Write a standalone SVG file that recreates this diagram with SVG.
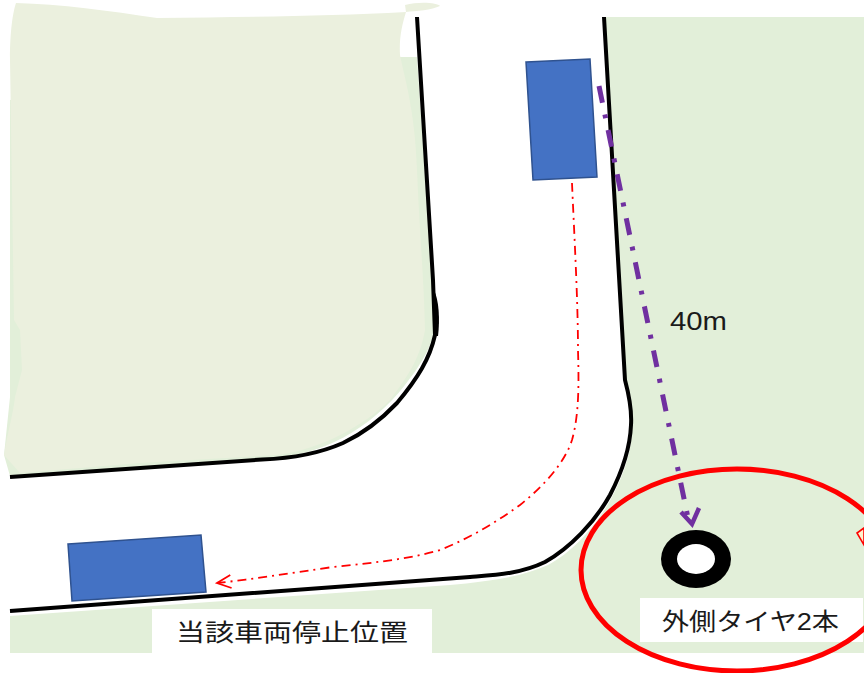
<svg xmlns="http://www.w3.org/2000/svg" width="864" height="673" viewBox="0 0 864 673">
<style>
.road{fill:none;stroke:#000;stroke-width:4;stroke-linejoin:round}
.car{fill:#4472c4;stroke:#2f528f;stroke-width:1.5}
.label{font-family:"Liberation Sans","Noto Sans CJK JP",sans-serif;fill:#1a1a1a}
.box{fill:#fff}
</style>
<defs>
<marker id="redHead" markerUnits="userSpaceOnUse" markerWidth="18" markerHeight="18" refX="16" refY="9" orient="auto"><path d="M2 2.5L16 9L2 15.5" fill="none" stroke="#ff0000" stroke-width="1.8"/></marker>
</defs>
<rect width="864" height="673" fill="#fff"/>
<g id="ground">
<path fill="#e2efd9" d="M604 17H864V653H10V616L450 585C490 581 522 577 548 565C573 552 597 525 612 497C625 472 632 450 632 425C633 410 629 395 625 380Z"/>
<path fill="#e2efd9" d="M10 100V397L4 455L10 476L270 458C320 456 370 430 405 385C425 360 435 340 435 320L417 57H400Z"/>
<path fill="#ebf0de" d="M16 3C60 4 110 11 157 18C250 17 330 16 406 12L405 5C420 1 438 3 440 6C432 10 416 11 406 12C402 25 399 38 400 55C405 80 415 110 417 170C420 240 424 280 425 330C420 360 405 380 390 400C365 425 320 450 277 455L140 463L20 473L4 455C8 430 13 415 15 397L22 370L20 330L14 320L10 60C10 30 13 12 16 3Z"/>
</g>
<g id="connectors">
<path class="road" d="M417 17L433 280L435 335C430 358 418 378 397 403C378 423 362 434 343 443C325 451 300 458 262 459.5L10 477"/>
<path fill="#000" d="M434 290C439 300 440 320 438 336L435 336Z"/>
<path class="road" d="M604 17L625 380C629 395 632 410 631 425C630 450 622 472 610 495C595 522 570 548 545 562C520 574 495 575 470 577L10 611"/>
<path fill="none" stroke="#ff0000" stroke-width="1.8" stroke-dasharray="9 5 2 5" marker-end="url(#redHead)" d="M572 183C574 230 578 300 578 350C579 385 579 415 572 440C565 462 545 485 520 505C495 523 470 538 440 550C405 560 370 563 333 567C290 573 255 579 217 583"/>
<path fill="none" stroke="#7030a0" stroke-width="5" stroke-dasharray="17 12 4 12" d="M599 86L688 518"/>
<path fill="none" stroke="#7030a0" stroke-width="4.5" d="M681 512L692 524L699 508"/>
</g>
<g id="car-top"><path class="car" d="M526 62L590 59L597 177L533 180Z"/></g>
<g id="car-bottom"><path class="car" d="M68 544L201 535L206 592L72 601Z"/></g>
<g id="distance-label"><text class="label" x="670" y="330" font-size="26" textLength="57" lengthAdjust="spacingAndGlyphs">40m</text></g>
<g id="tire">
<ellipse cx="696" cy="559" rx="35" ry="29" fill="#000"/>
<ellipse cx="696" cy="559" rx="19" ry="15" fill="#fff"/>
</g>
<g id="tire-label">
<rect class="box" x="640" y="598" width="223" height="44"/>
<text class="label" x="662" y="630" font-size="24" textLength="177" lengthAdjust="spacingAndGlyphs">外側タイヤ2本</text>
</g>
<g id="stop-label">
<rect class="box" x="152" y="609" width="280" height="44"/>
<text class="label" x="176" y="641" font-size="24" textLength="232" lengthAdjust="spacingAndGlyphs">当該車両停止位置</text>
</g>
<g id="callout"><path d="M864 528L857 533L864 545Z" fill="#fff2cc" stroke="#ff0000" stroke-width="1.6"/></g>
<g id="highlight">
<ellipse cx="737" cy="570" rx="156" ry="101" fill="none" stroke="#ff0000" stroke-width="5"/>
</g>
</svg>
